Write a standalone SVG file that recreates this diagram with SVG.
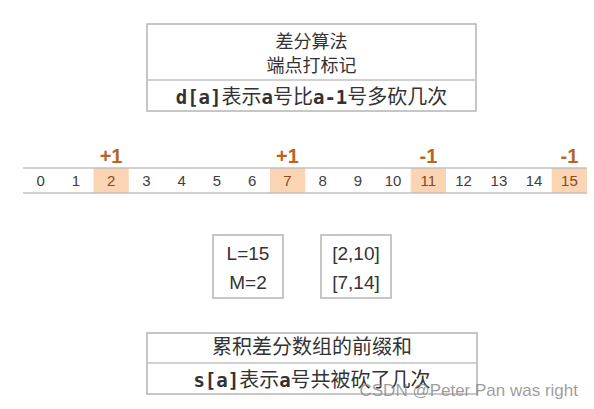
<svg xmlns="http://www.w3.org/2000/svg" width="594" height="409" viewBox="0 0 594 409">
<style>
.box{fill:none;stroke:#b4b4b4;stroke-width:1.5}
.ln{stroke:#c0c0c0;stroke-width:1.5}
.cn{font-family:"Noto Sans CJK SC","Liberation Sans",sans-serif;font-size:20px;fill:#333;text-anchor:middle}
.t{font-size:18px}
.mono{font-family:"DejaVu Sans Mono","Liberation Mono",monospace;font-weight:bold;font-size:19px}
.num{font-family:"Liberation Sans",sans-serif;font-size:15px;fill:#404040;text-anchor:middle}
.hi{fill:#fbd4b4}
.hn{fill:#8a4a1c}
.mk{font-family:"Liberation Sans",sans-serif;font-size:20px;font-weight:bold;fill:#b8651e;text-anchor:middle}
.lm{font-family:"Liberation Sans",sans-serif;font-size:19px;fill:#333;text-anchor:middle}
</style>
<rect width="594" height="409" fill="#ffffff"/>
<g id="top-box">
<rect class="box" x="147" y="24" width="329" height="87"/>
<line class="ln" x1="147" y1="80" x2="476" y2="80"/>
<text class="cn t" x="311.5" y="48">差分算法</text>
<text class="cn t" x="311.5" y="72">端点打标记</text>
<text class="cn" x="311.5" y="104"><tspan class="mono">d[a]</tspan>表示<tspan class="mono">a</tspan>号比<tspan class="mono">a-1</tspan>号多砍几次</text>
</g>
<g id="number-line">
<rect class="hi" x="93.5" y="168" width="35.25" height="25"/>
<rect class="hi" x="270" y="168" width="35.25" height="25"/>
<rect class="hi" x="410.75" y="168" width="35.25" height="25"/>
<rect class="hi" x="551.75" y="168" width="35.25" height="25"/>
<line class="ln" x1="23" y1="168" x2="587" y2="168"/>
<line class="ln" x1="23" y1="193" x2="587" y2="193"/>
<text class="num" x="40.6" y="186">0</text>
<text class="num" x="75.9" y="186">1</text>
<text class="num hn" x="111.1" y="186">2</text>
<text class="num" x="146.4" y="186">3</text>
<text class="num" x="181.6" y="186">4</text>
<text class="num" x="216.9" y="186">5</text>
<text class="num" x="252.1" y="186">6</text>
<text class="num hn" x="287.4" y="186">7</text>
<text class="num" x="322.6" y="186">8</text>
<text class="num" x="357.9" y="186">9</text>
<text class="num" x="393.1" y="186">10</text>
<text class="num hn" x="428.4" y="186">11</text>
<text class="num" x="463.6" y="186">12</text>
<text class="num" x="498.9" y="186">13</text>
<text class="num" x="534.1" y="186">14</text>
<text class="num hn" x="569.4" y="186">15</text>
<text class="mk" x="111.1" y="163">+1</text>
<text class="mk" x="287.4" y="163">+1</text>
<text class="mk" x="428.4" y="163">-1</text>
<text class="mk" x="569.4" y="163">-1</text>
</g>
<g id="lm-box">
<rect class="box" x="213" y="235" width="70" height="63"/>
<text class="lm" x="248" y="260">L=15</text>
<text class="lm" x="248" y="289">M=2</text>
</g>
<g id="range-box">
<rect class="box" x="321" y="235" width="70" height="63"/>
<text class="lm" x="356" y="260">[2,10]</text>
<text class="lm" x="356" y="289">[7,14]</text>
</g>
<g id="bottom-box">
<rect class="box" x="147" y="333" width="330" height="61"/>
<line class="ln" x1="147" y1="363" x2="477" y2="363"/>
<text class="cn" x="312" y="354">累积差分数组的前缀和</text>
<text class="cn" x="312" y="387"><tspan class="mono">s[a]</tspan>表示<tspan class="mono">a</tspan>号共被砍了几次</text>
</g>
<text x="578" y="396" font-family="Liberation Sans,sans-serif" font-size="17" fill="#8c8c8c" fill-opacity="0.85" text-anchor="end">CSDN @Peter Pan was right</text>
</svg>
